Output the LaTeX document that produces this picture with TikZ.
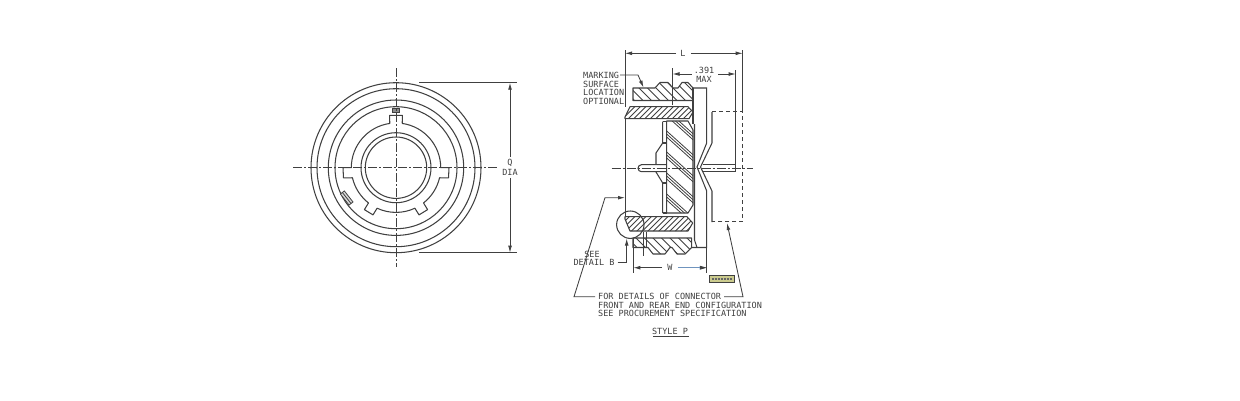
\documentclass[tikz,border=0pt]{standalone}
\usepackage{fontspec}
\setmainfont{DejaVu Sans Mono}
\usetikzlibrary{arrows.meta}
\definecolor{ink}{HTML}{404040}
\definecolor{wblue}{HTML}{6F94BE}
\definecolor{stampfill}{HTML}{CBCB8E}
\tikzset{
  ln/.style={draw=ink,line width=1.05pt},
  thin ln/.style={draw=ink,line width=0.8pt},
  hatch/.style={draw=ink,line width=0.8pt},
  center ln/.style={draw=ink,line width=0.75pt,dash pattern=on 9pt off 2pt on 2pt off 2pt},
  dashbox/.style={draw=ink,line width=1pt,dash pattern=on 4pt off 3pt},
  dim/.style={draw=ink,line width=0.85pt,-{Latex[length=7pt,width=3.8pt]}},
  lbl/.style={font=\fontsize{8.5}{9}\selectfont,text=ink,inner sep=0pt,anchor=center},
  lbll/.style={lbl,anchor=west}
}
\newcommand{\hatchfill}[3]{% #1 path, #2 direction +1 / -1, #3 spacing
  \begin{scope}
    \clip #1;
    \pgfmathsetmacro{\hsecond}{-400+#3}
    \foreach \k in {-400,\hsecond,...,400}{
      \draw[hatch] (660+\k-200*#2,-32) -- (660+\k+200*#2,368);
    }
  \end{scope}
}
\begin{document}
\begin{tikzpicture}[x=1pt,y=-1pt]
\useasboundingbox[fill=white] (0,0) rectangle (1240,400);
% ---------- front view
\coordinate (c) at (396,167.7);
\foreach \r in {85,79,67.7,61,35,30.7}{\draw[ln] (c) circle[radius=\r pt];}
\begin{scope}[shift={(396,167.7)},y=1pt,x=1pt]
  \draw[ln,line join=round]
    (82:44.7) -- (83:52.7) -- (97:52.7) -- (98:44.7)
    arc[start angle=98,end angle=180,radius=44.7]
    -- (180:53) -- (191:53.5) -- (193:44.7)
    arc[start angle=193,end angle=232,radius=44.7]
    -- (233:52.5) -- (244:52.5) -- (245:44.7)
    arc[start angle=245,end angle=295,radius=44.7]
    -- (296:52.5) -- (307:52.5) -- (308:44.7)
    arc[start angle=308,end angle=347,radius=44.7]
    -- (349:53.5) -- (360:53) -- (360:44.7)
    arc[start angle=0,end angle=82,radius=44.7];
  \draw[thin ln,fill=ink!60] (-3.3,59.7) rectangle (3.3,55.7);
  \begin{scope}[shift={(-49.3,-30.3)},rotate=-52]
    \draw[thin ln,fill=ink!20] (-7,-2.5) rectangle (7,2.5);
    \draw[thin ln] (-7,0) -- (7,0);
  \end{scope}
\end{scope}
\coordinate (hl) at (293,167.7); \coordinate (hr) at (497,167.7);
\coordinate (vt) at (396,68); \coordinate (vb) at (396,267);
\draw[center ln] (hl) -- (hr);
\draw[center ln] (vt) -- (vb);
% Q dim
\coordinate (qa) at (419,82.7); \coordinate (qb) at (517,82.7);
\coordinate (qc) at (419,252.7); \coordinate (qd) at (517,252.7);
\draw[thin ln] (qa) -- (qb);
\draw[thin ln] (qc) -- (qd);
\node[lbl] (qt) at (510,163) {Q};
\node[lbl] (dia) at (510,172.5) {DIA};
\coordinate (q1) at (510,82.7); \coordinate (q2) at (510,252.7);
\draw[dim] (qt.north) ++(0,-2) -- (q1);
\draw[dim] (dia.south) ++(0,2) -- (q2);
% ---------- side view: hatched parts
\def\nutT{(633,88) -- (655,88) -- (660,82.5) -- (668,82.5) -- (673,88) -- (678,88) -- (682,82.5) -- (688,82.5) -- (693,88) -- (693,100.5) -- (633,100.5) -- cycle}
\def\nutB{(633,247.5) -- (648,247.5) -- (653,254) -- (665,254) -- (670,247.5) -- (672,247.5) -- (677,254) -- (685,254) -- (691.7,247.5) -- (691.7,238) -- (633,238) -- cycle}
\def\bodyT{(630,106.7) -- (688,106.7) -- (693,112) -- (689,118.7) -- (625,118.7) -- (625,117) -- cycle}
\def\bodyB{(625,216.7) -- (687,216.7) -- (692.7,223) -- (688,231) -- (630,231) -- (625,219) -- cycle}
\def\ins{(666.7,121) -- (688,121) -- (693,130) -- (693,205) -- (688,213) -- (666.7,213) -- cycle}
\hatchfill{\nutT}{1}{8.5}
\hatchfill{\nutB}{1}{8.5}
\hatchfill{\bodyT}{-1}{5.5}
\hatchfill{\bodyB}{-1}{5.5}
\begin{scope}
  \clip \ins;
  \foreach \k in {-1,...,5}{
    \foreach \o in {0,3,6}{
      \draw[hatch] (660,104+\k*21+\o) -- (700,140+\k*21+\o);
    }
  }
\end{scope}
\draw[ln,line join=round] \nutT;
\draw[ln,line join=round] \nutB;
\draw[ln,line join=round] \bodyT;
\draw[ln,line join=round] \bodyB;
\draw[ln,line join=round] \ins;
% sleeve / step
\draw[ln] (662.7,121.7) -- (662.7,143) -- (656,153) -- (656,164.7);
\draw[ln] (662.7,213) -- (662.7,183) -- (656,172) -- (656,171.7);
\draw[ln] (662.7,121.7) -- (666.7,121.7);
\draw[ln] (662.7,143) -- (666.7,143);
\draw[ln] (662.7,183) -- (666.7,183);
\draw[ln] (662.7,213) -- (666.7,213);
% plate
\draw[ln] (693,88) -- (693,124);
\draw[ln] (694.5,124) -- (694.5,240) -- (697,247.5);
\draw[ln] (693,88) -- (706.7,88) -- (706.7,143) -- (697,167) -- (706.7,191) -- (706.7,247.5) -- (691.7,247.5);
\draw[ln] (712,112) -- (712,143) -- (700.5,167) -- (712,191) -- (712,222);
\coordinate (dbA) at (712,111.7); \coordinate (dbB) at (742.7,111.7);
\coordinate (dbC) at (742.7,221.7); \coordinate (dbD) at (712,221.7);
\draw[dashbox] (dbA) -- (dbB) -- (dbC) -- (dbD);
% pins
\draw[ln] (666.7,164.7) -- (641.5,164.7) arc[start angle=90,end angle=270,radius=3.5pt] -- (666.7,171.7);
\draw[ln] (703,164.7) -- (735.7,164.7) -- (735.7,171.7) -- (703,171.7);
\coordinate (cl1) at (611.7,168); \coordinate (cl2) at (752.7,168);
\draw[center ln] (cl1) -- (cl2);
% L dim
\coordinate (la) at (625,50); \coordinate (lb) at (625,106.7);
\coordinate (lc) at (625,118.7); \coordinate (ld) at (625,216.7);
\coordinate (ra) at (742.7,50); \coordinate (rb) at (742.7,111.7);
\draw[thin ln] (la) -- (lb);
\draw[thin ln] (lc) -- (ld);
\draw[thin ln] (ra) -- (rb);
\node[lbl] (lt) at (683,53.3) {L};
\coordinate (l1) at (625,53.3); \coordinate (l2) at (742.7,53.3);
\draw[dim] (lt.west) ++(-4,0) -- (l1);
\draw[dim] (lt.east) ++(5,0) -- (l2);
% .391
\coordinate (m1) at (672.5,68); \coordinate (m2) at (672.5,105);
\coordinate (m3) at (735.7,70); \coordinate (m4) at (735.7,164.7);
\draw[thin ln] (m1) -- (m2);
\draw[thin ln] (m3) -- (m4);
\node[lbl] (t391) at (704,70) {.391};
\node[lbl] (tmax) at (704,79) {MAX};
\coordinate (n1) at (672.5,74); \coordinate (n2) at (735.7,74);
\draw[dim] (691.7,74) -- (n1);
\draw[dim] (718.3,74) -- (n2);
% marking
\node[lbll] (m11) at (583,75) {MARKING};
\node[lbll] (m12) at (583,84.3) {SURFACE};
\node[lbll] (m13) at (583,92.7) {LOCATION};
\node[lbll] (m14) at (583,101) {OPTIONAL};
\coordinate (mk1) at (638,75); \coordinate (mk2) at (643.5,87.5);
\draw[dim] (m11.east) ++(1,0) -- (mk1) -- (mk2);
% detail circle
\coordinate (dc) at (630.3,224.7);
\draw[ln] (dc) circle[radius=13.7pt];
\node[lbl] (see) at (592,254) {SEE};
\node[lbl] (det) at (594,262.7) {DETAIL B};
\coordinate (de1) at (626.7,262.7); \coordinate (de2) at (626.7,238.5);
\draw[dim] (det.east) ++(3,0) -- (de1) -- (de2);
% W dim
\coordinate (wa) at (633.3,238); \coordinate (wb) at (633.3,273);
\coordinate (wc) at (706.7,247.5); \coordinate (wd) at (706.7,273);
\draw[thin ln] (wa) -- (wb);
\draw[thin ln] (wc) -- (wd);
\node[lbl] (wt) at (670,267.7) {W};
\coordinate (w1) at (633.3,267.7); \coordinate (w2) at (706.7,267.7);
\draw[dim] (wt.west) ++(-5,0) -- (w1);
\draw[dim,draw=wblue] (wt.east) ++(5,0) -- (w2);
\fill[ink] (706.7,267.7) -- (700,265.8) -- (700,269.6) -- cycle;
% short ticks
\draw[thin ln] (643.7,232) -- (643.7,256);
\draw[thin ln] (646,232) -- (646,248);
% stamp
\node[draw=ink,fill=stampfill,line width=0.7pt,minimum width=24.5pt,minimum height=7.3pt,inner sep=0pt] (stamp) at (721.7,278.7) {};
\draw[draw=ink!80,line width=2pt,dash pattern=on 2pt off 1pt] (stamp.west) ++(2.5,0) -- ([xshift=-2.5pt]stamp.east);
% notes
\node[lbll] (n1t) at (598,296.7) {FOR DETAILS OF CONNECTOR};
\node[lbll] (n2t) at (598,305) {FRONT AND REAR END CONFIGURATION};
\node[lbll] (n3t) at (598,313.3) {SEE PROCUREMENT SPECIFICATION};
\coordinate (a1) at (625,197.7); \coordinate (a2) at (605,197.7); \coordinate (a3) at (574,296.7);
\draw[dim] (n1t.west) ++(-3,0) -- (a3) -- (a2) -- (a1);
\coordinate (b1) at (727,223); \coordinate (b2) at (743,296.7);
\draw[dim] (n1t.east) ++(3,0) -- (b2) -- (b1);
\node[lbl] (sp) at (670,331) {STYLE P};
\coordinate (u1) at (653,336.7); \coordinate (u2) at (689,336.7);
\draw[ln] (u1) -- (u2);
\end{tikzpicture}
\end{document}
